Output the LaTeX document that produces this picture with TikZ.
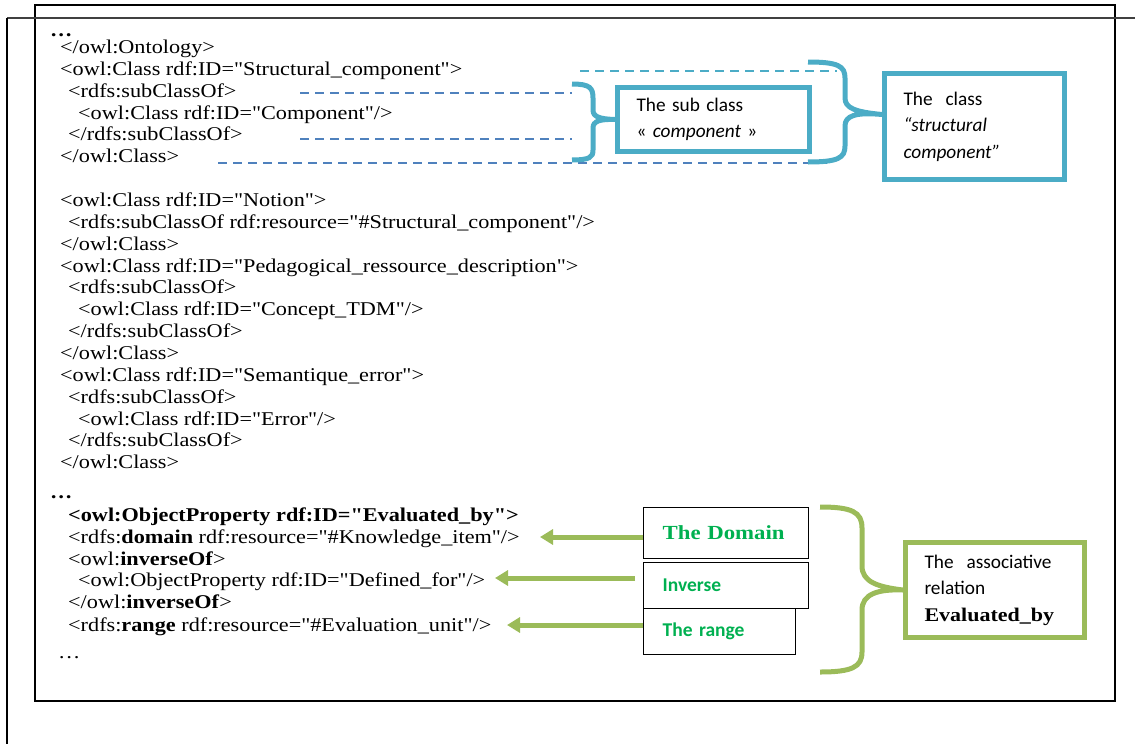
\documentclass[tikz,border=0pt]{standalone}
\usepackage{fontspec}
\setmainfont{Liberation Serif}[FakeStretch=1.14, Ligatures=TeXOff]
\newfontfamily\lblfont{Carlito}
\usetikzlibrary{arrows.meta}

\definecolor{clsblue}{HTML}{4BACC6}
\definecolor{dashblue}{HTML}{4F81BD}
\definecolor{relgreen}{HTML}{9BBB59}
\definecolor{lblgreen}{HTML}{00B050}

\tikzset{
  codeline/.style={anchor=base west, inner sep=0pt, font=\fontsize{19.5}{22}\selectfont},
  labelbox/.style={anchor=north west, inner xsep=19pt, inner ysep=0pt, align=left,
    font=\lblfont\fontsize{19.3}{26.5}\selectfont},
  bluebox/.style={labelbox, draw=clsblue, line width=5pt},
  greenbox/.style={labelbox, draw=relgreen, line width=5pt},
  tagbox/.style={labelbox, draw=black, line width=1.3pt, text=lblgreen},
  bluebrace/.style={draw=clsblue, line width=5pt},
  greenbrace/.style={draw=relgreen, line width=5pt},
  pointer/.style={draw=relgreen, line width=5pt, -{Triangle[length=13pt,width=15pt]}},
  guide/.style={dash pattern=on 9pt off 6pt, line width=1.5pt}
}

\begin{document}
\begin{tikzpicture}[x=1pt,y=-1pt]
  \useasboundingbox (0,0) rectangle (1135,744);

  % Frame
  \draw[line width=2pt] (35,5) rectangle (1115,701);
  \draw[line width=2.5pt, black!75] (7,18) -- (1135,18);
  \draw[line width=2.5pt] (7,18) -- (7,744);

  % Code lines (baseline y / indent x / text)
  \node[codeline] (dots1) at (50,36) {\textbf{…}};
  \foreach \y/\x/\txt in {
      53/60/{</owl:Ontology>},
      75/60/{<owl:Class rdf:ID="Structural\_component">},
      97/68/{<rdfs:subClassOf>},
      119/78/{<owl:Class rdf:ID="Component"/>},
      140/68/{</rdfs:subClassOf>},
      162/60/{</owl:Class>},
      206/60/{<owl:Class rdf:ID="Notion">},
      228/68/{<rdfs:subClassOf rdf:resource="\#Structural\_component"/>},
      250/60/{</owl:Class>},
      272/60/{<owl:Class rdf:ID="Pedagogical\_ressource\_description">},
      293/68/{<rdfs:subClassOf>},
      315/78/{<owl:Class rdf:ID="Concept\_TDM"/>},
      337/68/{</rdfs:subClassOf>},
      359/60/{</owl:Class>},
      381/60/{<owl:Class rdf:ID="Semantique\_error">},
      403/68/{<rdfs:subClassOf>},
      425/78/{<owl:Class rdf:ID="Error"/>},
      446/68/{</rdfs:subClassOf>},
      468/60/{</owl:Class>}} {
    \node[codeline] (ln\y) at (\x,\y) {\txt};
  }
  \node[codeline] (dots2) at (50,498) {\textbf{…}};
  \foreach \y/\x/\txt in {
      521/68/{\textbf{<owl:ObjectProperty rdf:ID="Evaluated\_by">}},
      543/68/{<rdfs:\textbf{domain} rdf:resource="\#Knowledge\_item"/>},
      565/68/{<owl:\textbf{inverseOf}>},
      586/78/{<owl:ObjectProperty rdf:ID="Defined\_for"/>},
      608/68/{</owl:\textbf{inverseOf}>},
      631/68/{<rdfs:\textbf{range} rdf:resource="\#Evaluation\_unit"/>}} {
    \node[codeline] (ln\y) at (\x,\y) {\txt};
  }
  \node[codeline] (dots3) at (58,658) {…};

  % Class part
  \node[bluebox, text width=154pt, minimum height=64pt] (sub) at (615,85)
    {The sub class\\« \textit{component} »};
  \node[bluebox, text width=142pt, minimum height=106pt] (cls) at (882,71)
    {The\ \ class\\\textit{“structural}\\\textit{component”}};

  \draw[guide, draw=clsblue] (580,71) -- (837,71);
  \draw[guide, draw=dashblue] (300,93) -- (572,93);
  \draw[guide, draw=dashblue] (300,139) -- (572,139);
  \draw[guide, draw=dashblue] (218,163) -- (827,163);

  \draw[bluebrace] (572,84) .. controls (590,84) and (593,88) .. (593,98) -- (593,110)
    .. controls (593,117) and (600,119) .. (sub.west)
    .. controls (600,119) and (593,121) .. (593,128) -- (593,150)
    .. controls (593,157) and (590,160) .. (572,160);
  \draw[bluebrace] (808,62) .. controls (838,62) and (845,66) .. (845,78) -- (845,98)
    .. controls (845,108) and (855,112) .. ([yshift=12pt]cls.west)
    .. controls (855,112) and (845,116) .. (845,126) -- (845,146)
    .. controls (845,158) and (838,162) .. (808,162);

  % Relation part
  \node[tagbox, text width=127pt, minimum height=51pt,
    font=\fontsize{20}{22}\selectfont\bfseries] (dom) at (643,507) {The Domain};
  \node[tagbox, text width=127pt, minimum height=46pt,
    font=\lblfont\fontsize{19.5}{22}\selectfont\bfseries] (inv) at (643,562) {Inverse};
  \node[tagbox, text width=114pt, minimum height=46pt,
    font=\lblfont\fontsize{19.5}{22}\selectfont\bfseries] (rng) at (643,608) {The range};
  \node[greenbox, text width=141pt, minimum height=95pt] (rel) at (903,540)
    {The\ \ associative\\relation\\{\rmfamily\bfseries Evaluated\_by}};

  \coordinate (dtip) at (540,537);
  \coordinate (itip) at (495,578);
  \coordinate (rtip) at (507,625);
  \draw[pointer] (dom.west |- dtip) -- (dtip);
  \draw[pointer] ([xshift=-8pt]inv.west |- itip) -- (itip);
  \draw[pointer] (rng.west |- rtip) -- (rtip);

  \draw[greenbrace] (820,507) .. controls (852,507) and (862,512) .. (862,528) -- (862,566)
    .. controls (862,582) and (878,587) .. (rel.west)
    .. controls (878,589) and (862,594) .. (862,610) -- (862,652)
    .. controls (862,667) and (852,672) .. (820,672);
\end{tikzpicture}
\end{document}
